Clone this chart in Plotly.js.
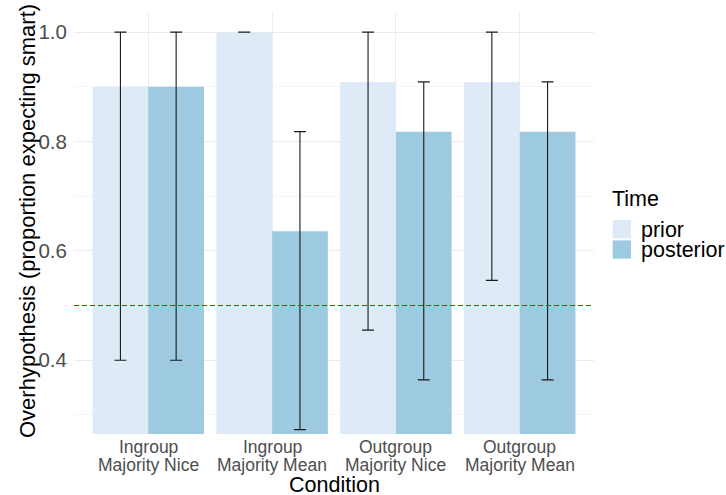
<!DOCTYPE html>
<html>
<head>
<meta charset="utf-8">
<script src="https://cdn.plot.ly/plotly-3.0.1.min.js"></script>
<style>html,body{margin:0;padding:0;background:#fff;}#chart{width:726px;height:495px;}</style>
</head>
<body>
<div id="chart"></div>
<script>
// ---- data ----
const conditions = ["Ingroup<br>Majority Nice", "Ingroup<br>Majority Mean", "Outgroup<br>Majority Nice", "Outgroup<br>Majority Mean"];
const priorMean = [0.900, 1.000, 0.909, 0.909];
const priorLow  = [0.400, 1.000, 0.455, 0.546];
const priorHigh = [1.000, 1.000, 1.000, 1.000];
const postMean  = [0.900, 0.636, 0.818, 0.818];
const postLow   = [0.400, 0.273, 0.364, 0.364];
const postHigh  = [1.000, 0.818, 0.909, 0.909];
const refLine = 0.5;
const yTicks = [0.4, 0.6, 0.8, 1.0];
const yTickText = ["0.4", "0.6", "0.8", "1.0"];
const seriesNames = ["prior", "posterior"];
const xTitle = "Condition";
const yTitle = "Overhypothesis (proportion expecting smart)";
const legendTitle = "Time";

// ---- layout helpers ----
const W = 726, H = 495;
const M = {l: 74, r: 132, t: 13, b: 61};
const PW = W - M.l - M.r, PH = H - M.t - M.b;
const px = x => (x - M.l) / PW;
const py = y => (H - M.b - y) / PH;

const FONT = "Liberation Sans, Arial, Helvetica, sans-serif";
const colPrior = "#DEEBF7", colPost = "#9ECAE1";

function errs(mean, low, high) {
  return {
    type: "data", symmetric: false,
    array: high.map((h, i) => h - mean[i]),
    arrayminus: low.map((l, i) => mean[i] - l),
    color: "#1a1a1a", thickness: 1.1, width: 6
  };
}

const traces = [
  {type: "bar", name: seriesNames[0], x: conditions, y: priorMean,
   marker: {color: colPrior, line: {width: 0}}, error_y: errs(priorMean, priorLow, priorHigh),
   showlegend: false, hoverinfo: "skip"},
  {type: "bar", name: seriesNames[1], x: conditions, y: postMean,
   marker: {color: colPost, line: {width: 0}}, error_y: errs(postMean, postLow, postHigh),
   showlegend: false, hoverinfo: "skip"},
  // horizontal reference line across the whole panel (on an overlaid 0..1 axis)
  {type: "scatter", mode: "lines", xaxis: "x2", yaxis: "y", x: [0, 1], y: [refLine, refLine],
   line: {color: "#FF0000", width: 1.2, dash: "5px,3px"}, showlegend: false, hoverinfo: "skip"}
];

// x tick labels as two text lines per category (tight ggplot line spacing)
const tickAnns = [];
conditions.forEach(c => {
  const parts = c.split("<br>");
  parts.forEach((p, j) => {
    tickAnns.push({xref: "x", yref: "paper", x: c, y: py(447 + j * 18.5), xanchor: "center", yanchor: "middle",
      text: p, showarrow: false, borderpad: 0, font: {family: FONT, size: 17.5, color: "#4D4D4D"}});
  });
});

const layout = {
  width: W, height: H,
  margin: M,
  paper_bgcolor: "#fff", plot_bgcolor: "#fff",
  font: {family: FONT, color: "#000"},
  barmode: "group", bargap: 0.1, bargroupgap: 0,
  showlegend: false,
  xaxis: {
    type: "category",
    range: [-0.6, 3.6],
    showgrid: true, gridcolor: "#EBEBEB", gridwidth: 1,
    zeroline: false, showline: false,
    ticks: "", showticklabels: false,
    automargin: false, fixedrange: true
  },
  xaxis2: {overlaying: "x", range: [0, 1], visible: false, showgrid: false, zeroline: false, fixedrange: true},
  yaxis: {
    range: [0.265, 1.035],
    tickvals: yTicks, ticktext: yTickText,
    showgrid: true, gridcolor: "#EBEBEB", gridwidth: 1,
    minor: {tickvals: [0.3, 0.5, 0.7, 0.9], showgrid: true, gridcolor: "#F2F2F2", gridwidth: 0.8, ticks: ""},
    zeroline: false, showline: false,
    ticks: "outside", ticklen: 2, tickcolor: "rgba(0,0,0,0)",
    tickfont: {family: FONT, size: 20.5, color: "#4D4D4D"},
    automargin: false, fixedrange: true
  },
  shapes: [
    {type: "rect", xref: "paper", yref: "paper", x0: px(612.7), x1: px(631), y0: py(238.3), y1: py(220),
     fillcolor: colPrior, line: {width: 0}},
    {type: "rect", xref: "paper", yref: "paper", x0: px(612.7), x1: px(631), y0: py(258.7), y1: py(240.4),
     fillcolor: colPost, line: {width: 0}}
  ],
  annotations: tickAnns.concat([
    {xref: "paper", yref: "paper", x: px(27.5), y: py(221.5), xanchor: "center", yanchor: "middle", textangle: -90,
     text: yTitle, showarrow: false, font: {family: FONT, size: 22, color: "#000"}},
    {xref: "paper", yref: "paper", x: px(334.3), y: py(485), xanchor: "center", yanchor: "middle", borderpad: 0,
     text: xTitle, showarrow: false, font: {family: FONT, size: 21.5, color: "#000"}},
    {xref: "paper", yref: "paper", x: px(610.5), y: py(198.5), xanchor: "left", yanchor: "middle", borderpad: 0,
     text: legendTitle, showarrow: false, font: {family: FONT, size: 21.5, color: "#000"}},
    {xref: "paper", yref: "paper", x: px(639.5), y: py(229.5), xanchor: "left", yanchor: "middle", borderpad: 0,
     text: seriesNames[0], showarrow: false, font: {family: FONT, size: 21.5, color: "#000"}},
    {xref: "paper", yref: "paper", x: px(639.5), y: py(249.5), xanchor: "left", yanchor: "middle", borderpad: 0,
     text: seriesNames[1], showarrow: false, font: {family: FONT, size: 21.5, color: "#000"}}
  ])
};

Plotly.newPlot("chart", traces, layout, {staticPlot: true, displayModeBar: false});
</script>
</body>
</html>
